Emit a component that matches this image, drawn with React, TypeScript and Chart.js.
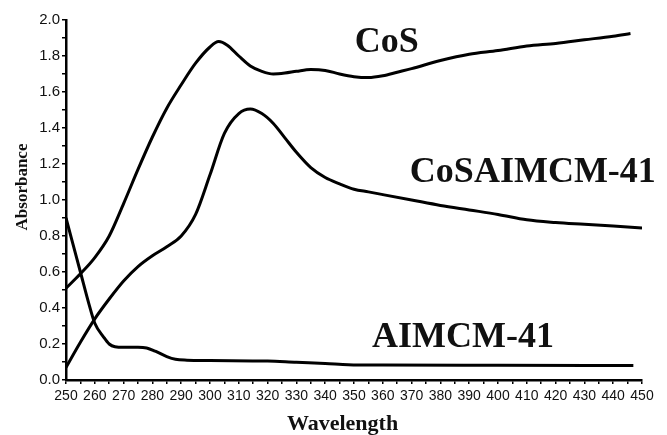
import React, { useEffect, useRef } from 'react';
import { Chart, registerables } from 'chart.js';

Chart.register(...registerables);

// CoS
const cosWavelength = [250, 255, 260, 265, 270, 275, 280, 285, 290, 295, 300, 303, 306, 310, 314, 318, 322, 326, 330, 335, 340, 345, 350, 355, 360, 365, 370, 380, 390, 400, 410, 420, 430, 440, 446];
const cosAbsorbance = [0.51, 0.59, 0.68, 0.8, 0.98, 1.17, 1.35, 1.51, 1.64, 1.76, 1.85, 1.88, 1.86, 1.8, 1.745, 1.715, 1.7, 1.705, 1.715, 1.725, 1.72, 1.7, 1.685, 1.68, 1.69, 1.71, 1.73, 1.775, 1.81, 1.83, 1.855, 1.87, 1.89, 1.91, 1.925];

// CoSAlMCM-41
const cosalWavelength = [250, 255, 260, 265, 270, 275, 280, 285, 290, 295, 300, 305, 310, 314, 318, 322, 326, 330, 335, 340, 345, 350, 355, 360, 370, 380, 390, 400, 410, 420, 430, 440, 450];
const cosalAbsorbance = [0.07, 0.21, 0.34, 0.45, 0.55, 0.63, 0.69, 0.74, 0.8, 0.92, 1.14, 1.37, 1.48, 1.505, 1.48, 1.425, 1.345, 1.265, 1.18, 1.125, 1.09, 1.06, 1.045, 1.03, 1.0, 0.97, 0.945, 0.92, 0.89, 0.875, 0.865, 0.855, 0.845];

// AlMCM-41
const alWavelength = [250, 252, 255, 258, 260, 263, 265, 267, 270, 275, 278, 281, 285, 288, 292, 300, 320, 330, 340, 348, 360, 400, 447];
const alAbsorbance = [0.9, 0.78, 0.6, 0.42, 0.315, 0.24, 0.2, 0.185, 0.182, 0.182, 0.178, 0.16, 0.13, 0.115, 0.11, 0.108, 0.105, 0.098, 0.092, 0.085, 0.083, 0.082, 0.08];

const curveNames = ['CoS', 'CoSAIMCM-41', 'AIMCM-41'];
const labelWavelengths = [350.3, 369.4, 356.25];
const labelAbsorbances = [1.822, 1.1, 0.183];

const xTitle = 'Wavelength';
const yTitle = 'Absorbance';

const toPoints = (xs: number[], ys: number[]) => xs.map((x, i) => ({ x, y: ys[i] }));

export default function App() {
  const ref = useRef<HTMLCanvasElement>(null);

  useEffect(() => {
    if (!ref.current) return;
    const serif = '"Liberation Serif", "Times New Roman", Times, serif';
    const sans = '"Liberation Sans", Arial, Helvetica, sans-serif';

    const labelPlugin = {
      id: 'curveLabels',
      afterDraw(chart: any) {
        const { ctx, scales, chartArea } = chart;
        const x = scales.x;
        const y = scales.y;
        ctx.save();
        ctx.fillStyle = '#111';
        ctx.textAlign = 'left';
        ctx.textBaseline = 'alphabetic';
        ctx.font = `bold 36px ${serif}`;
        curveNames.forEach((name, i) => {
          ctx.fillText(name, x.getPixelForValue(labelWavelengths[i]), y.getPixelForValue(labelAbsorbances[i]));
        });
        // axis titles
        ctx.font = `bold 22px ${serif}`;
        ctx.textAlign = 'center';
        ctx.fillText(xTitle, chartArea.left + 276.5, chart.height - 5);
        ctx.font = `bold 17px ${serif}`;
        ctx.translate(chartArea.left - 39, chartArea.top + 167);
        ctx.rotate(-Math.PI / 2);
        ctx.fillText(yTitle, 0, 0);
        ctx.restore();
      },
    };

    const lineStyle = {
      borderColor: '#000',
      backgroundColor: '#000',
      borderWidth: 3,
      pointRadius: 0,
      fill: false,
      cubicInterpolationMode: 'monotone' as const,
    };

    const chart = new Chart(ref.current, {
      type: 'line',
      data: {
        datasets: [
          { label: curveNames[0], data: toPoints(cosWavelength, cosAbsorbance), ...lineStyle },
          { label: curveNames[1], data: toPoints(cosalWavelength, cosalAbsorbance), ...lineStyle },
          { label: curveNames[2], data: toPoints(alWavelength, alAbsorbance), ...lineStyle },
        ],
      },
      options: {
        responsive: false,
        animation: false,
        events: [],
        layout: { padding: { top: 20, right: 25, left: 0, bottom: 0 } },
        plugins: {
          legend: { display: false },
          tooltip: { enabled: false },
        },
        scales: {
          x: {
            type: 'linear',
            min: 250,
            max: 450,
            afterFit: (s: any) => { s.height = 55; },
            ticks: {
              stepSize: 5,
              autoSkip: false,
              maxRotation: 0,
              minRotation: 0,
              padding: 4,
              color: '#111',
              font: { family: sans, size: 14 },
              callback: (v: any) => (Math.round(Number(v)) % 10 === 0 ? String(Math.round(Number(v))) : ''),
            },
            grid: { drawOnChartArea: false, drawTicks: true, tickLength: 4, color: '#000', lineWidth: 1.5 },
            border: { display: true, color: '#000', width: 2.5 },
          },
          y: {
            type: 'linear',
            min: 0,
            max: 2,
            afterFit: (s: any) => { s.width = 66; },
            ticks: {
              stepSize: 0.1,
              autoSkip: false,
              padding: 2,
              color: '#111',
              font: { family: sans, size: 15 },
              callback: (v: any) => (Math.round(Number(v) * 10) % 2 === 0 ? Number(v).toFixed(1) : ''),
            },
            grid: { drawOnChartArea: false, drawTicks: true, tickLength: 4, color: '#000', lineWidth: 1.5 },
            border: { display: true, color: '#000', width: 2.5 },
          },
        },
      },
      plugins: [labelPlugin],
    });

    return () => chart.destroy();
  }, []);

  return (
    <div style={{ position: 'fixed', left: 0, top: 0, width: 667, height: 435, background: '#fff' }}>
      <canvas ref={ref} width={667} height={435} style={{ width: 667, height: 435, display: 'block' }} />
    </div>
  );
}
